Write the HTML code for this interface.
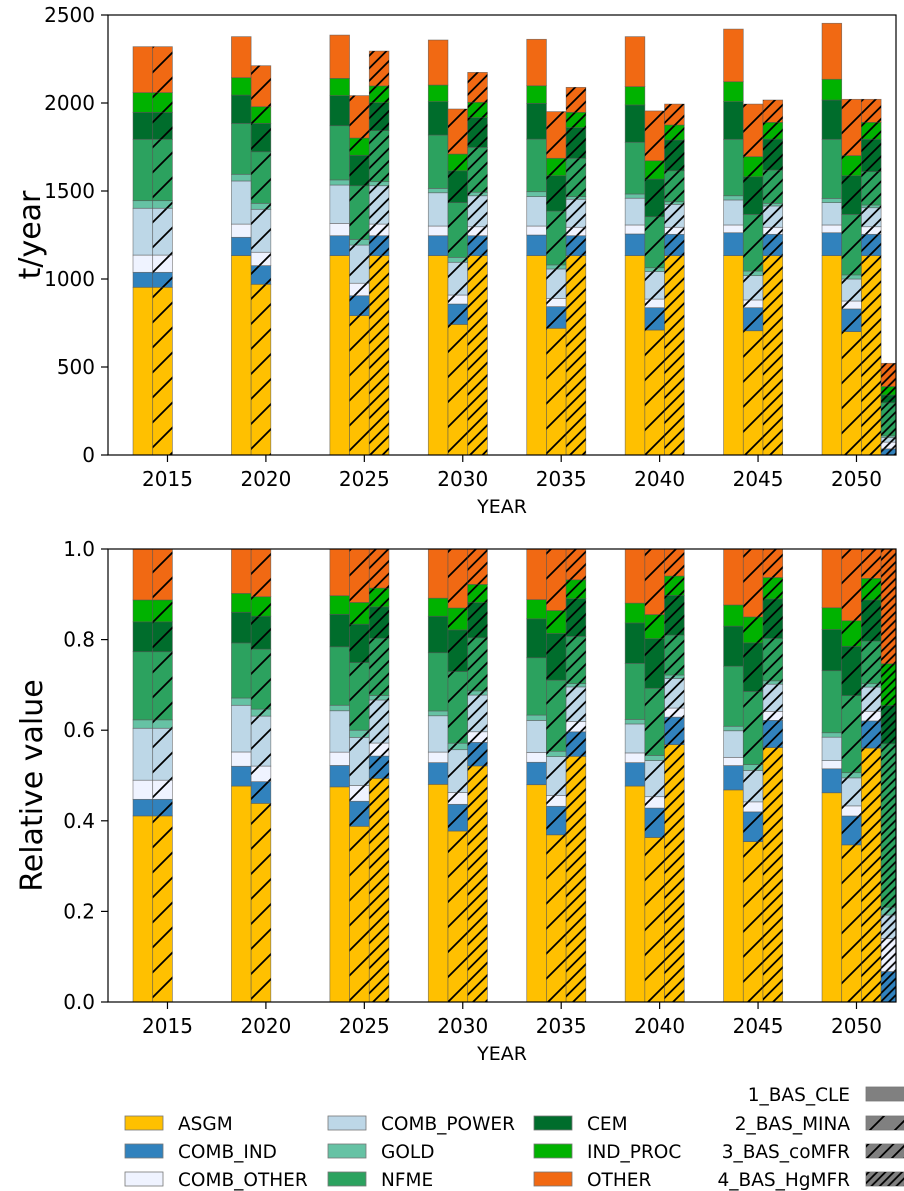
<!DOCTYPE html>
<html><head><meta charset="utf-8">
<style>
html,body{margin:0;padding:0;background:#fff;}
svg{display:block;font-family:"DejaVu Sans","Liberation Sans",sans-serif;}
</style></head>
<body>
<svg id="chart" width="904" height="1191" viewBox="0 0 904 1191" xmlns="http://www.w3.org/2000/svg">
<defs>
<pattern id="h1" patternUnits="userSpaceOnUse" width="25" height="25"><path d="M-2,2 L2,-2 M0,25 L25,0 M23,27 L27,23" stroke="#000" stroke-width="1.8"/></pattern>
<pattern id="h2" patternUnits="userSpaceOnUse" width="12.5" height="12.5"><path d="M-2,2 L2,-2 M0,12.5 L12.5,0 M10.5,14.5 L14.5,10.5" stroke="#000" stroke-width="1.8"/></pattern>
<pattern id="h3" patternUnits="userSpaceOnUse" width="8.33" height="8.33"><path d="M-2,2 L2,-2 M0,8.33 L8.33,0 M6.33,10.33 L10.33,6.33" stroke="#000" stroke-width="1.8"/></pattern>
<clipPath id="clipTop"><rect x="108" y="15" width="788" height="440"/></clipPath>
<clipPath id="clipBot"><rect x="108" y="549" width="788" height="453"/></clipPath>
</defs>
<g id="top"></g>
<g id="bot"></g>
<g id="legend"></g>
</svg>
<script>
const years = [2015, 2020, 2025, 2030, 2035, 2040, 2045, 2050];
const sources = ["ASGM","COMB_IND","COMB_OTHER","COMB_POWER","GOLD","NFME","CEM","IND_PROC","OTHER"];
const scenarios = ["1_BAS_CLE","2_BAS_MINA","3_BAS_coMFR","4_BAS_HgMFR"];
const scenCLE = [
 [953,85,98,266,43,349,153,112,261],
 [1133,104,75,245,38,289,161,99,233],
 [1133,113,70,218,29,308,171,98,246],
 [1133,113,55,189,25,303,190,94,256],
 [1133,117,51,167,28,299,203,100,264],
 [1133,123,51,152,24,294,212,104,284],
 [1133,130,44,142,24,321,214,113,299],
 [1133,130,44,127,24,336,223,118,318]
];
const scenMINA = [
 [953,85,98,266,43,349,153,112,261],
 [970,106,76,244,34,293,161,95,233],
 [792,113,71,217,32,305,173,98,241],
 [742,116,51,186,28,311,181,95,256],
 [720,123,47,167,23,306,201,99,265],
 [710,127,49,156,22,290,214,104,283],
 [706,131,44,138,26,322,214,114,299],
 [701,129,45,125,23,344,220,114,320]
];
const scenCOMFR = [
 null, null,
 [1133,113,66,218,23,290,159,95,198],
 [1133,113,51,176,20,255,169,87,170],
 [1133,113,48,159,15,218,174,87,142],
 [1133,121,40,130,15,176,175,85,119],
 [1133,121,40,121,15,189,176,95,127],
 [1133,121,43,108,15,190,184,96,131]
];
const scenHGMFR = [null,null,null,null,null,null,null,[0,35,38,27,9,188,44,48,132]];
const topTicks = [0,500,1000,1500,2000,2500];
const relTicks = ["0.0","0.2","0.4","0.6","0.8","1.0"];

const colors = ["#ffc000","#3182bd","#eff3ff","#bdd7e7","#66c2a4","#2ca25f","#006d2c","#00b200","#f16913"];
const hatches = [null,"url(#h1)","url(#h2)","url(#h3)"];
const NS = "http://www.w3.org/2000/svg";
const allScen = [scenCLE, scenMINA, scenCOMFR, scenHGMFR];

function mk(tag, attrs, parent){
  const e = document.createElementNS(NS, tag);
  for (const k in attrs) e.setAttribute(k, attrs[k]);
  parent.appendChild(e);
  return e;
}
const X0 = 133, GAP = 98.43, BW = 19.7;
function xBar(yi, si){ return X0 + yi*GAP + si*BW; }
function xTick(yi){ return X0 + yi*GAP + 1.75*BW; }
function yTop(v){ return 455 - v*0.176; }
function yRel(v){ return 1002 - v*453; }

function drawPanel(g, yScale, relative, clipId, axTop, axBot, ticks, tickLbl, ylabel, ylabX, ylabSize){
  const bars = mk('g', {'clip-path':'url(#'+clipId+')'}, g);
  
  
  allScen.forEach((sc, si) => {
    sc.forEach((row, yi) => {
      if (!row) return;
      const total = row.reduce((a,b)=>a+b,0);
      let cum = 0;
      row.forEach((v, ci) => {
        const val = relative ? v/total : v;
        if (val <= 0) { return; }
        const y1 = yScale(cum), y2 = yScale(cum+val);
        cum += val;
        const r = mk('rect', {x:xBar(yi,si), y:y2, width:BW, height:y1-y2, fill:colors[ci], stroke:'#555', 'stroke-width':0.7, 'stroke-opacity':0.7}, bars);
        
        
        if (hatches[si]) {
          const h = mk('rect', {x:xBar(yi,si), y:y2, width:BW, height:y1-y2, fill:hatches[si]}, bars);
          
          
        }
      });
    });
  });
  const frame = mk('rect', {x:108, y:axTop, width:788, height:axBot-axTop, fill:'none', stroke:'#000', 'stroke-width':1.2}, g);
  
  
  ticks.forEach((t, i) => {
    const y = yScale(t);
    const tl = mk('line', {x1:101, x2:108, y1:y, y2:y, stroke:'#000', 'stroke-width':1.2}, g);
    
    
    const tx = mk('text', {x:95, y:y+7, 'text-anchor':'end', 'font-size':20, fill:'#000'}, g);
    tx.textContent = tickLbl[i];
    
    
  });
  years.forEach((yr, yi) => {
    const x = xTick(yi);
    const tl = mk('line', {x1:x, x2:x, y1:axBot, y2:axBot+7, stroke:'#000', 'stroke-width':1.2}, g);
    
    
    const tx = mk('text', {x:x, y:axBot+31, 'text-anchor':'middle', 'font-size':20, fill:'#000'}, g);
    tx.textContent = yr;
    
    
  });
  const xl = mk('text', {x:502, y:axBot+58, 'text-anchor':'middle', 'font-size':19, fill:'#000'}, g);
  xl.textContent = 'YEAR';
  
  
  const cy = (axTop+axBot)/2 + (relative ? 10 : 0);
  const yl = mk('text', {x:ylabX, y:cy, 'text-anchor':'middle', 'font-size':ylabSize, fill:'#000', transform:'rotate(-90 '+ylabX+' '+cy+')'}, g);
  yl.textContent = ylabel;
  
  
}
drawPanel(document.getElementById('top'), yTop, false, 'clipTop', 15, 455, topTicks, topTicks.map(String), 't/year', 40, 30);
drawPanel(document.getElementById('bot'), yRel, true, 'clipBot', 549, 1002, relTicks.map(Number), relTicks, 'Relative value', 42, 30);

// legend
const lg = document.getElementById('legend');
const colX = [125, 328, 534];
const rowY = [1123, 1151, 1179];
sources.forEach((s, i) => {
  const c = Math.floor(i/3), r = i%3;
  const sw = mk('rect', {x:colX[c], y:rowY[r]-7, width:38, height:14, fill:colors[i], stroke:'#777', 'stroke-width':0.8}, lg);
  
  
  const t = mk('text', {x:colX[c]+53, y:rowY[r]+7, 'font-size':18.5, fill:'#000'}, lg);
  t.textContent = s;
  
  
});
const sRowY = [1094, 1123, 1151, 1179];
scenarios.forEach((s, i) => {
  const t = mk('text', {x:850, y:sRowY[i]+7, 'text-anchor':'end', 'font-size':18.5, fill:'#000'}, lg);
  t.textContent = s;
  
  
  const sw = mk('rect', {x:866, y:sRowY[i]-7, width:40, height:14, fill:'#808080', stroke:'#777', 'stroke-width':0.8}, lg);
  
  
  if (hatches[i]) {
    const h = mk('rect', {x:866, y:sRowY[i]-7, width:40, height:14, fill:hatches[i]}, lg);
    
    
  }
});
</script>
</body></html>
